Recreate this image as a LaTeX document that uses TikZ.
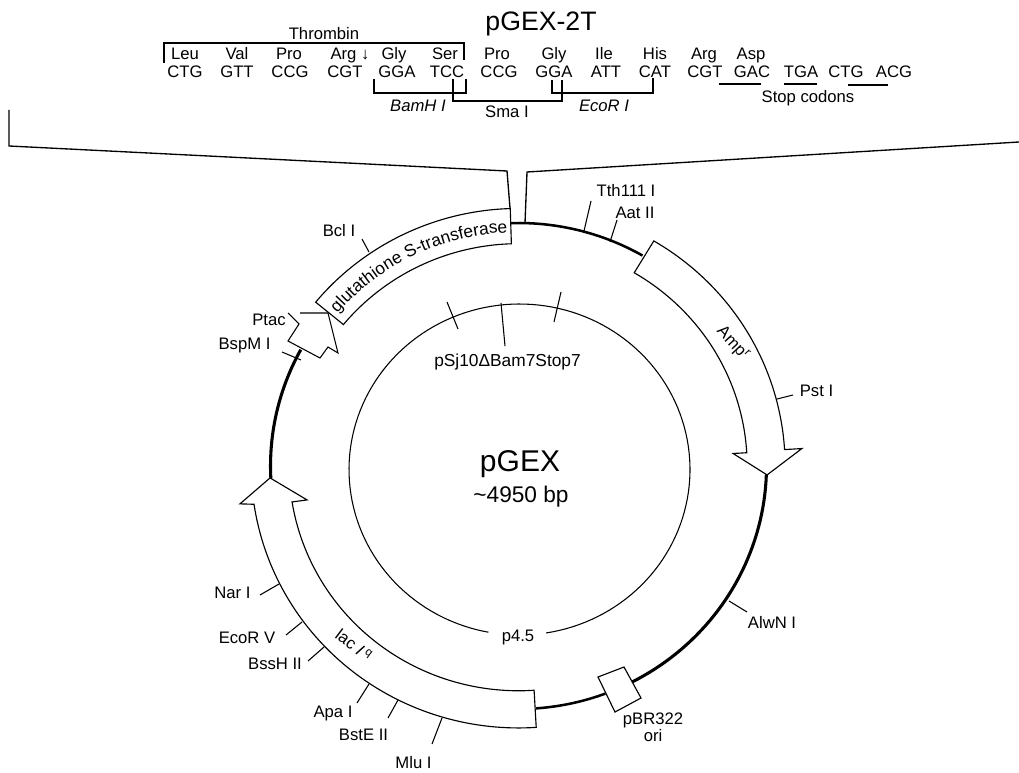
\documentclass[tikz,border=0pt]{standalone}
\usepackage{fontspec}
\setmainfont{Liberation Sans}
\usetikzlibrary{decorations.text}
\newcommand\labfont{\fontsize{12.5}{14}\selectfont}
\newcommand\bigfont{\fontsize{13}{15}\selectfont}
\tikzset{
  lab/.style={inner sep=0pt,outer sep=0pt,font=\labfont,text height=9pt,text depth=0pt},
  thin line/.style={line width=0.8pt,line join=miter},
  leader/.style={line width=0.8pt},
  ring/.style={line width=2.3pt,line cap=butt},
  feature/.style={line width=0.85pt,line join=miter,fill=white},
  inner ring/.style={line width=0.8pt},
}
% name, label position, label text, leader start, leader end
\newcommand\site[5]{%
  \node[lab] (#1) at (#2) {#3};
  \coordinate (#1-a) at (#4);
  \coordinate (#1-b) at (#5);
  \draw[leader] (#1-a) -- (#1-b);
}
% name, x, text, row base y
\newcommand\cod[4]{\node[lab,anchor=base] (#1) at (#2,#4) {#3};}
\begin{document}
\begin{tikzpicture}[x=0.75pt,y=-0.75pt]
\useasboundingbox (0,0) rectangle (1019,773);

%% Title and sequence block
\node[inner sep=0pt,font=\fontsize{20}{22}\selectfont,text height=14.5pt,text depth=0pt] (title) at (541,21) {pGEX-2T};
\node[lab] (thrombin) at (324,34) {Thrombin};
\foreach \n/\x/\t in {a1/185/Leu,a2/237/Val,a3/289/Pro,a4/350/Arg ↓,a5/394/Gly,a6/445/Ser,a7/497/Pro,a8/554/Gly,a9/604/Ile,a10/655/His,a11/704/Arg,a12/751/Asp}
  {\cod{\n}{\x}{\t}{60}}
\foreach \n/\x/\t in {b1/185/CTG,b2/237/GTT,b3/290/CCG,b4/345/CGT,b5/397/GGA,b6/447/TCC,b7/499/CCG,b8/554/GGA,b9/606/ATT,b10/655/CAT,b11/705/CGT,b12/752/GAC,b13/801/TGA,b14/846/CTG,b15/894/ACG}
  {\cod{\n}{\x}{\t}{78}}
\node[lab] (bamh) at (418,106) {\textit{BamH I}};
\node[lab] (sma) at (507,112) {Sma I};
\node[lab] (ecor) at (604,106) {\textit{EcoR I}};
\node[lab] (stop) at (808,97) {Stop codons};

\coordinate (t1) at (164,63); \coordinate (t2) at (164,43); \coordinate (t3) at (464,43); \coordinate (t4) at (464,60);
\draw[thin line] (t1) -- (t2) -- (t3) -- (t4);
\coordinate (bm1) at (374,79); \coordinate (bm2) at (374,93); \coordinate (bm3) at (466,93); \coordinate (bm4) at (466,79);
\draw[thin line] (bm1) -- (bm2) -- (bm3) -- (bm4);
\coordinate (sm1) at (453,79); \coordinate (sm2) at (453,101); \coordinate (sm3) at (562,101); \coordinate (sm4) at (562,80);
\draw[thin line] (sm1) -- (sm2) -- (sm3) -- (sm4);
\coordinate (ec1) at (552,80); \coordinate (ec2) at (552,93); \coordinate (ec3) at (653,93); \coordinate (ec4) at (653,78);
\draw[thin line] (ec1) -- (ec2) -- (ec3) -- (ec4);
\coordinate (u1) at (719,84); \coordinate (u2) at (761,84); \draw[thin line] (u1) -- (u2);
\coordinate (u3) at (784,84); \coordinate (u4) at (817,84); \draw[thin line] (u3) -- (u4);
\coordinate (u5) at (848,85); \coordinate (u6) at (888,85); \draw[thin line] (u5) -- (u6);

%% Expansion lines
\coordinate (e1) at (9,110); \coordinate (e2) at (9,146); \coordinate (e3) at (507,171); \coordinate (e4) at (510,208);
\draw[line width=1pt,line join=miter] (e1) -- (e2) -- (e3) -- (e4);
\coordinate (f1) at (525,223); \coordinate (f2) at (527,172); \coordinate (f3) at (1019,142);
\draw[line width=1pt,line join=miter] (f1) -- (f2) -- (f3);

%% Inner circle
\begin{scope}[shift={(519.5,469.5)},x=1.27875pt,y=1.24125pt]
  \draw[inner ring] plot[domain=-81:259.5,samples=150] (\x:100);
\end{scope}
\node[lab,font=\bigfont] (psj) at (507.5,360) {pSj10ΔBam7Stop7};
\coordinate (psj-a) at (501,303); \coordinate (psj-b) at (505,346); \draw[leader] (psj-a) -- (psj-b);
\coordinate (k1) at (447,302); \coordinate (k2) at (458,329); \draw[leader] (k1) -- (k2);
\coordinate (k3) at (561,292); \coordinate (k4) at (554,322); \draw[leader] (k3) -- (k4);
\node[lab] (p45) at (518,635) {p4.5};

%% Centre labels
\node[inner sep=0pt,font=\fontsize{22.5}{24}\selectfont,text height=16pt,text depth=0pt] (pgex) at (520,461) {pGEX};
\node[inner sep=0pt,font=\fontsize{17}{19}\selectfont,text height=12.2pt,text depth=0pt] (bp) at (521,494) {\textasciitilde 4950 bp};

%% Outer ring and features
\begin{scope}[shift={(518.5,466)},x=1.86pt,y=1.8225pt]
  \draw[ring,line width=1.9pt] plot[domain=60:91.8,samples=30] (\x:100);
  \draw[ring] plot[domain=-2:-63,samples=40] (\x:100);
  \draw[ring,line width=1.9pt] plot[domain=-69.5:-86,samples=20] (\x:100);
  \draw[ring] plot[domain=151.4:182.8,samples=30] (\x:100);
  % GST box
  \draw[feature] plot[domain=91.8:140.5,samples=50] (\x:106)
     -- plot[domain=140.5:91.8,samples=50] (\x:91.5) -- cycle;
  \path[decorate,decoration={text along path,text align=center,
     text={|\bigfont|glutathione S-transferase}}]
     plot[domain=140:92,samples=70] (\x:96.2);
  % Amp arrow
  \draw[feature] plot[domain=59.5:3.6,samples=50] (\x:107.5) -- (3.6:114.5) -- (-2.1:100.3)
     -- (3.4:86.7) -- (3.4:92.2) -- plot[domain=3.4:59.6,samples=50] (\x:92.2) -- cycle;
  % lac I arrow
  \draw[feature] plot[domain=273.8:188.4,samples=70] (\x:107.8) -- (187.9:113.4) -- (182.8:100.3)
     -- (189.3:86.4) -- (189.2:92.5) -- plot[domain=189.2:273.9,samples=70] (\x:92.5) -- cycle;
\end{scope}
\node[lab,rotate=-47] (amp) at (734,342) {Amp\textsuperscript{r}};
\node[lab,rotate=-37] (lac) at (354,645) {lac \textit{I}\,\textsuperscript{q}};

%% pBR322 ori box
\coordinate (o1) at (598,677); \coordinate (o2) at (624,667); \coordinate (o3) at (641,698); \coordinate (o4) at (615,712);
\draw[feature] (o1) -- (o2) -- (o3) -- (o4) -- cycle;
\node[lab] (pbr) at (653,718) {pBR322};
\node[lab] (ori) at (653,735) {ori};

%% Ptac promoter arrow
\coordinate (pa) at (300,313); \coordinate (pb) at (328,313); \coordinate (pc) at (338,353); \coordinate (pd) at (328,347);
\coordinate (pe) at (320,358); \coordinate (pf) at (288,341); \coordinate (pg) at (299,324); \coordinate (ph) at (288,313);
\draw[thin line] (pa) -- (pb) -- (pc) -- (pd) -- (pe) -- (pf) -- (pg) -- (ph);
\node[lab] (ptac) at (269,319) {Ptac};

%% Restriction sites
\site{bcl}{339,231}{Bcl I}{362,239}{369,252}
\site{bspm}{244.5,343}{BspM I}{282,352}{301,360}
\site{tth}{626,191}{Tth111 I}{591,201}{584,231}
\site{aat}{635,213}{Aat II}{617,220}{610,242}
\site{pst}{816.5,390}{Pst I}{793,395}{777,399}
\site{alwn}{772,622}{AlwN I}{747,612}{729,601}
\site{nar}{232.5,592}{Nar I}{260,595}{279,584}
\site{ecov}{247,637}{EcoR V}{286,635}{302,622}
\site{bssh}{275,663}{BssH II}{308,661}{324,647}
\site{apa}{333,711}{Apa I}{357,703}{369,684}
\site{bste}{363.5,734}{BstE II}{388,718}{398,700}
\site{mlu}{413.5,762}{Mlu I}{432,744}{442,718}
\end{tikzpicture}
\end{document}
